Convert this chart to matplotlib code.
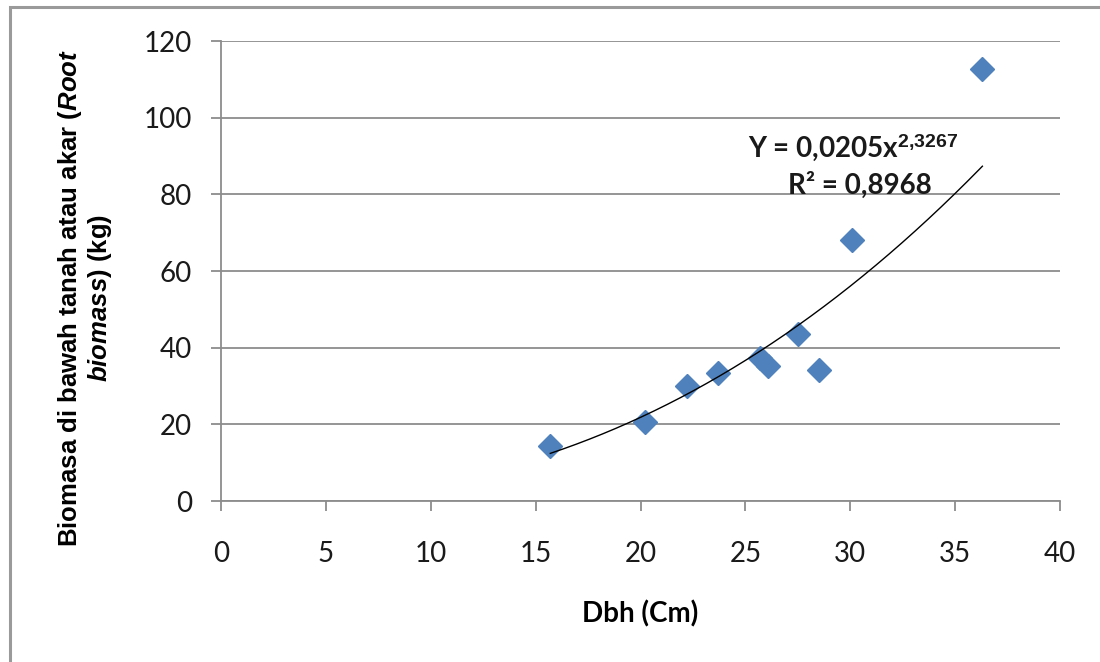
import numpy as np
import matplotlib.pyplot as plt
from matplotlib.patches import Rectangle

# Dbh (cm) and root biomass (kg)
dbh = [15.7, 20.2, 22.2, 23.7, 25.7, 26.1, 27.5, 28.5, 30.1, 36.3]
root_biomass = [14.3, 20.6, 30.0, 33.4, 37.2, 35.1, 43.6, 34.2, 68.0, 112.6]

# power trendline coefficients shown on the chart
coef_a = 0.0205
coef_b = 2.3267
r_squared = 0.8968

x_ticks = [0, 5, 10, 15, 20, 25, 30, 35, 40]
y_ticks = [0, 20, 40, 60, 80, 100, 120]

plt.rcParams['mathtext.fontset'] = 'custom'
plt.rcParams['mathtext.rm'] = 'Liberation Sans:bold'
plt.rcParams['mathtext.it'] = 'Liberation Sans:italic:bold'
plt.rcParams['mathtext.bf'] = 'Liberation Sans:bold'

fig = plt.figure(figsize=(11, 6.62), dpi=100)
ax = fig.add_axes([221 / 1100, 1 - 501 / 662, 839 / 1100, 460 / 662])

grid_color = '#8c8c8c'
ax.set_xlim(0, 40)
ax.set_ylim(0, 120)
ax.set_xticks(x_ticks)
ax.set_yticks(y_ticks)
ax.grid(axis='y', color=grid_color, linewidth=1.3)
ax.set_axisbelow(True)
for side in ['top', 'right']:
    ax.spines[side].set_visible(False)
for side in ['left', 'bottom']:
    ax.spines[side].set_color(grid_color)
    ax.spines[side].set_linewidth(1.3)
ax.tick_params(axis='both', direction='out', length=7, width=1.3, color=grid_color,
               labelsize=20, labelcolor='#1a1a1a')
for lab in ax.get_xticklabels() + ax.get_yticklabels():
    lab.set_fontfamily('Lato')
ax.tick_params(axis='x', pad=22)
ax.tick_params(axis='y', pad=14)

ax.plot(dbh, root_biomass, linestyle='none', marker='D', markersize=12,
        color='#4f81bd', zorder=3)

xs = np.linspace(min(dbh), max(dbh), 200)
ax.plot(xs, coef_a * xs ** coef_b, color='black', linewidth=1.0, zorder=4)

eq = 'Y = ' + f'{coef_a}'.replace('.', ',') + 'x'
sup = f'{coef_b}'.replace('.', '{,}')
ax.annotate(eq + r'$^{\mathrm{' + sup + '}}$', xy=(853, 662 - 148),
            xycoords='figure pixels', ha='center', va='center',
            fontsize=20, fontweight='bold', family='Lato', color='#1a1a1a')
ax.annotate('R² = ' + f'{r_squared}'.replace('.', ','), xy=(860, 662 - 185),
            xycoords='figure pixels', ha='center', va='center',
            fontsize=20, fontweight='bold', family='Lato', color='#1a1a1a')

ax.set_xlabel('Dbh (Cm)', fontsize=20, fontweight='bold', family='Lato', labelpad=24)
fig.text(70 / 1100, 1 - 298 / 662, r'Biomasa di bawah tanah atau akar ($\mathit{Root}$',
         rotation=90, ha='center', va='center', fontsize=18.5, fontweight='bold',
         family='Liberation Sans')
fig.text(100 / 1100, 1 - 298 / 662, r'$\mathit{biomass}$) (kg)',
         rotation=90, ha='center', va='center', fontsize=18.5, fontweight='bold',
         family='Liberation Sans')

fig.patches.append(Rectangle((10 / 1100, -0.1), 1.2, 1.1 - 7 / 662, transform=fig.transFigure,
                             fill=False, edgecolor='#9a9a9a', linewidth=2.2))

fig.savefig('out.png', dpi=100)
